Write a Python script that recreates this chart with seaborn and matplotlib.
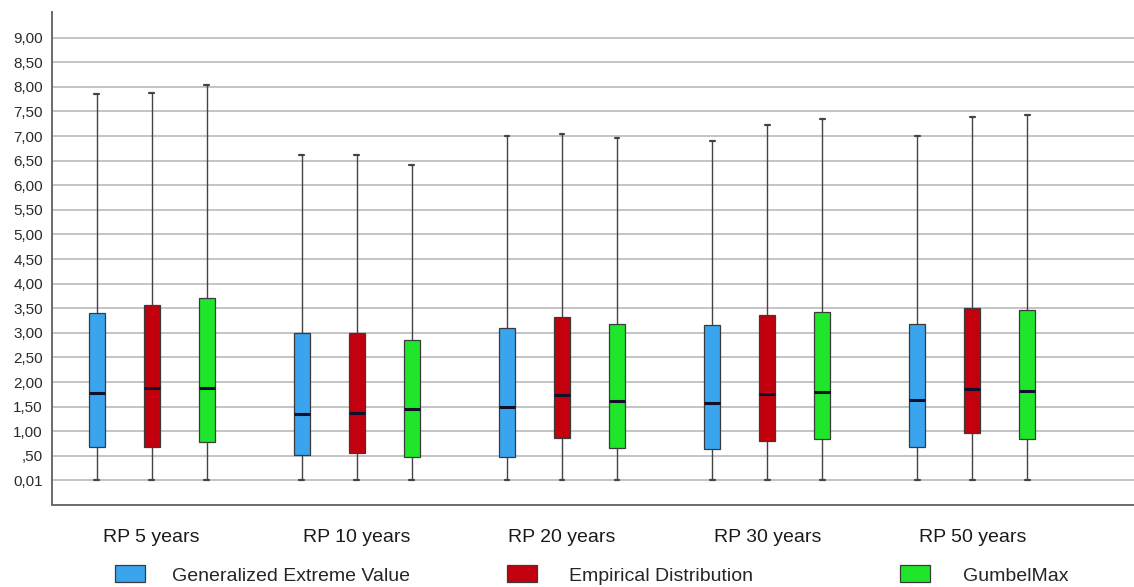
import matplotlib
matplotlib.use("Agg")
import matplotlib.pyplot as plt
import seaborn as sns
import pandas as pd
import numpy as np

# ---- data (five-number summaries) ----
periods = ["RP 5 years", "RP 10 years", "RP 20 years", "RP 30 years", "RP 50 years"]
methods = ["Generalized Extreme Value", "Empirical Distribution", "GumbelMax"]

gev_min = [0.01, 0.01, 0.01, 0.01, 0.01]
gev_q1 = [0.69, 0.52, 0.47, 0.63, 0.69]
gev_med = [1.78, 1.35, 1.50, 1.57, 1.64]
gev_q3 = [3.40, 2.99, 3.09, 3.15, 3.19]
gev_max = [7.86, 6.62, 7.00, 6.90, 7.00]

emp_min = [0.01, 0.01, 0.01, 0.01, 0.01]
emp_q1 = [0.69, 0.55, 0.86, 0.80, 0.96]
emp_med = [1.87, 1.37, 1.74, 1.75, 1.85]
emp_q3 = [3.57, 2.99, 3.33, 3.36, 3.51]
emp_max = [7.87, 6.62, 7.04, 7.22, 7.38]

gum_min = [0.01, 0.01, 0.01, 0.01, 0.01]
gum_q1 = [0.79, 0.47, 0.67, 0.84, 0.84]
gum_med = [1.87, 1.45, 1.62, 1.79, 1.82]
gum_q3 = [3.70, 2.86, 3.17, 3.43, 3.47]
gum_max = [8.04, 6.41, 6.95, 7.35, 7.43]

ytick_values = [0.01, 0.5, 1.0, 1.5, 2.0, 2.5, 3.0, 3.5, 4.0, 4.5,
                5.0, 5.5, 6.0, 6.5, 7.0, 7.5, 8.0, 8.5, 9.0]

colors = ["#3AA4EE", "#C2000E", "#1FE62B"]

# ---- build long table: 5 points per box give exact quartiles ----
summaries = {
    methods[0]: (gev_min, gev_q1, gev_med, gev_q3, gev_max),
    methods[1]: (emp_min, emp_q1, emp_med, emp_q3, emp_max),
    methods[2]: (gum_min, gum_q1, gum_med, gum_q3, gum_max),
}
rows = []
for m, stats in summaries.items():
    for i, p in enumerate(periods):
        for s in stats:
            rows.append({"period": p, "method": m, "value": s[i]})
df = pd.DataFrame(rows)

sns.set_style("white")
plt.rcParams["font.family"] = ["Liberation Sans", "DejaVu Sans"]

fig = plt.figure(figsize=(11.34, 5.87), dpi=100)
ax = fig.add_axes([52 / 1134, (587 - 505) / 587, 1 - 52 / 1134, (505 - 12) / 587])

sns.boxplot(
    data=df, x="period", y="value", hue="method", order=periods, hue_order=methods,
    palette=colors, saturation=1, width=0.804, gap=0.709, whis=(0, 100),
    showfliers=False, linewidth=0.9, linecolor="#3a3a3a",
    medianprops=dict(color="#10102a", linewidth=2.2),
    whiskerprops=dict(color="#444444", linewidth=1.0),
    capprops=dict(color="#444444", linewidth=1.6),
    ax=ax,
)

# short caps
for cont in ax.containers:
    if hasattr(cont, "caps"):
        for cap in cont.caps:
            xd = np.asarray(cap.get_xdata(), dtype=float)
            c = xd.mean()
            cap.set_xdata([c - 0.012, c + 0.012])

handles, labels = ax.get_legend_handles_labels()
if ax.get_legend() is not None:
    ax.get_legend().remove()

ax.set_xlim(-0.485, 4.787)
ax.set_ylim(-0.498, 9.52)
ax.set_yticks(ytick_values)
ylabels = []
for v in ytick_values:
    s = f"{v:.2f}".replace(".", ",")
    if s.startswith("0,") and v >= 0.1:
        s = s[1:]
    ylabels.append(s)
ax.set_yticklabels(ylabels)
ax.tick_params(axis="y", length=0, pad=6.5, labelsize=11, labelcolor="#2a2a2a")
ax.tick_params(axis="x", length=0, pad=17, labelsize=14, labelcolor="#1a1a1a")
ax.set_xlabel("")
ax.set_ylabel("")

ax.yaxis.grid(True, color="#c4c4c4", linewidth=1.4)
ax.xaxis.grid(False)
ax.set_axisbelow(True)

for side in ["top", "right"]:
    ax.spines[side].set_visible(False)
for side in ["left", "bottom"]:
    ax.spines[side].set_color("#6a6a6a")
    ax.spines[side].set_linewidth(1.4)

# legend items placed along the bottom
leg_x = [115, 507, 900]
leg_pad = [1.4, 1.65, 1.7]
for i in range(len(handles)):
    fig.legend(handles=[handles[i]], labels=[labels[i]], loc="center left",
               bbox_to_anchor=(leg_x[i] / 1134, 12 / 587), frameon=False,
               borderpad=0, borderaxespad=0, handletextpad=leg_pad[i],
               handlelength=1.55, handleheight=0.95, fontsize=14)

fig.savefig("out.png", dpi=100)
